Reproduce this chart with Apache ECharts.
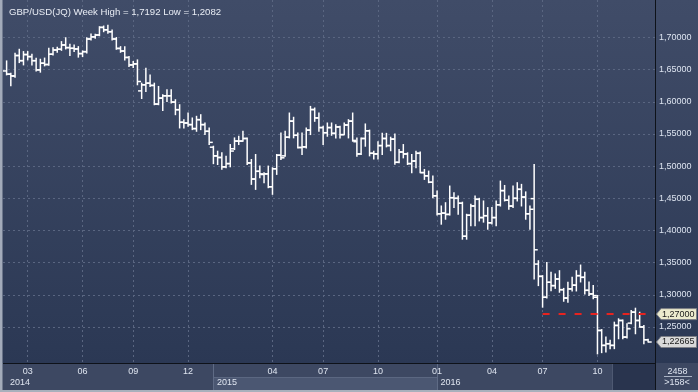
<!DOCTYPE html>
<html><head><meta charset="utf-8">
<script src="https://cdn.jsdelivr.net/npm/echarts@6/dist/echarts.min.js"></script>
<style>html,body{margin:0;padding:0;background:#2b3854}#c{width:698px;height:392px}</style>
</head><body><div id="c"></div>
<script>
const titleText = 'GBP/USD(JQ) Week High = 1,7192 Low = 1,2082';
const weeks = [
'2014-01-27','2014-02-03','2014-02-10','2014-02-17','2014-02-24','2014-03-03','2014-03-10','2014-03-17','2014-03-24','2014-03-31',
'2014-04-07','2014-04-14','2014-04-21','2014-04-28','2014-05-05','2014-05-12','2014-05-19','2014-05-26','2014-06-02','2014-06-09',
'2014-06-16','2014-06-23','2014-06-30','2014-07-07','2014-07-14','2014-07-21','2014-07-28','2014-08-04','2014-08-11','2014-08-18',
'2014-08-25','2014-09-01','2014-09-08','2014-09-15','2014-09-22','2014-09-29','2014-10-06','2014-10-13','2014-10-20','2014-10-27',
'2014-11-03','2014-11-10','2014-11-17','2014-11-24','2014-12-01','2014-12-08','2014-12-15','2014-12-22','2014-12-29',
'2015-01-05','2015-01-12','2015-01-19','2015-01-26','2015-02-02','2015-02-09','2015-02-16','2015-02-23','2015-03-02','2015-03-09',
'2015-03-16','2015-03-23','2015-03-30','2015-04-06','2015-04-13','2015-04-20','2015-04-27','2015-05-04','2015-05-11','2015-05-18',
'2015-05-25','2015-06-01','2015-06-08','2015-06-15','2015-06-22','2015-06-29','2015-07-06','2015-07-13','2015-07-20','2015-07-27',
'2015-08-03','2015-08-10','2015-08-17','2015-08-24','2015-08-31','2015-09-07','2015-09-14','2015-09-21','2015-09-28','2015-10-05',
'2015-10-12','2015-10-19','2015-10-26','2015-11-02','2015-11-09','2015-11-16','2015-11-23','2015-11-30','2015-12-07','2015-12-14',
'2015-12-21','2015-12-28',
'2016-01-04','2016-01-11','2016-01-18','2016-01-25','2016-02-01','2016-02-08','2016-02-15','2016-02-22','2016-02-29','2016-03-07',
'2016-03-14','2016-03-21','2016-03-28','2016-04-04','2016-04-11','2016-04-18','2016-04-25','2016-05-02','2016-05-09','2016-05-16',
'2016-05-23','2016-05-30','2016-06-06','2016-06-13','2016-06-20','2016-06-27','2016-07-04','2016-07-11','2016-07-18','2016-07-25',
'2016-08-01','2016-08-08','2016-08-15','2016-08-22','2016-08-29','2016-09-05','2016-09-12','2016-09-19','2016-09-26','2016-10-03',
'2016-10-10','2016-10-17','2016-10-24','2016-10-31','2016-11-07','2016-11-14','2016-11-21','2016-11-28','2016-12-05','2016-12-12',
'2016-12-19','2016-12-26'
];
// [open, high, low, close] per week
const weeklyOHLC = [
[1.6480,1.6636,1.6419,1.6430],[1.6430,1.6445,1.6249,1.6404],[1.6400,1.6755,1.6383,1.6720],[1.6720,1.6817,1.6610,1.6640],
[1.6640,1.6781,1.6574,1.6735],[1.6735,1.6781,1.6652,1.6703],[1.6703,1.6739,1.6574,1.6640],[1.6640,1.6677,1.6481,1.6497],
[1.6497,1.6662,1.6461,1.6600],[1.6600,1.6680,1.6559,1.6580],[1.6580,1.6832,1.6570,1.6740],[1.6740,1.6841,1.6729,1.6806],
[1.6806,1.6850,1.6771,1.6817],[1.6817,1.6936,1.6800,1.6884],[1.6884,1.6996,1.6822,1.6843],[1.6843,1.6894,1.6719,1.6832],
[1.6832,1.6884,1.6781,1.6822],[1.6822,1.6858,1.6695,1.6750],[1.6750,1.6791,1.6703,1.6780],[1.6780,1.6997,1.6760,1.6977],
[1.6977,1.7054,1.6961,1.7010],[1.7010,1.7049,1.6987,1.7039],[1.7039,1.7168,1.7028,1.7157],[1.7157,1.7178,1.7090,1.7120],
[1.7120,1.7192,1.7065,1.7090],[1.7090,1.7116,1.6961,1.6977],[1.6977,1.6999,1.6817,1.6830],[1.6830,1.6858,1.6770,1.6790],
[1.6790,1.6858,1.6652,1.6690],[1.6690,1.6703,1.6549,1.6574],[1.6574,1.6626,1.6533,1.6590],[1.6590,1.6652,1.6265,1.6316],
[1.6170,1.6290,1.6052,1.6265],[1.6265,1.6523,1.6162,1.6290],[1.6290,1.6419,1.6239,1.6255],[1.6255,1.6290,1.5955,1.5965],
[1.5965,1.6239,1.5955,1.6058],[1.6058,1.6110,1.5867,1.6094],[1.6094,1.6187,1.6007,1.6094],[1.6094,1.6187,1.5981,1.5996],
[1.5996,1.6033,1.5800,1.5878],[1.5878,1.5955,1.5594,1.5682],[1.5682,1.5723,1.5594,1.5671],[1.5671,1.5826,1.5620,1.5646],
[1.5646,1.5749,1.5568,1.5584],[1.5584,1.5775,1.5542,1.5723],[1.5723,1.5800,1.5568,1.5646],[1.5646,1.5671,1.5491,1.5542],
[1.5542,1.5594,1.5336,1.5370],
[1.5295,1.5310,1.5039,1.5160],[1.5160,1.5233,1.5026,1.5135],[1.5135,1.5207,1.4952,1.4990],[1.4990,1.5155,1.4975,1.5040],
[1.5040,1.5336,1.4990,1.5235],[1.5270,1.5439,1.5258,1.5390],[1.5390,1.5465,1.5336,1.5390],[1.5390,1.5542,1.5388,1.5430],
[1.5430,1.5439,1.5026,1.5050],[1.5050,1.5104,1.4717,1.4800],[1.4800,1.5181,1.4639,1.4920],[1.4920,1.5001,1.4820,1.4880],
[1.4870,1.4897,1.4743,1.4880],[1.4880,1.5001,1.4665,1.4680],[1.4680,1.4975,1.4562,1.4960],[1.4960,1.5181,1.4872,1.5170],
[1.5170,1.5517,1.5104,1.5130],[1.5160,1.5542,1.5155,1.5450],[1.5450,1.5826,1.5439,1.5700],[1.5700,1.5760,1.5440,1.5480],
[1.5480,1.5517,1.5284,1.5290],[1.5290,1.5517,1.5181,1.5300],[1.5300,1.5594,1.5284,1.5560],[1.5560,1.5929,1.5491,1.5880],
[1.5880,1.5904,1.5697,1.5750],[1.5750,1.5826,1.5542,1.5600],[1.5600,1.5620,1.5336,1.5520],[1.5520,1.5671,1.5465,1.5600],
[1.5600,1.5671,1.5480,1.5510],[1.5510,1.5645,1.5439,1.5610],[1.5610,1.5620,1.5439,1.5490],[1.5490,1.5671,1.5490,1.5640],
[1.5640,1.5723,1.5439,1.5700],[1.5700,1.5826,1.5388,1.5400],[1.5380,1.5439,1.5155,1.5190],[1.5190,1.5439,1.5181,1.5430],
[1.5430,1.5656,1.5310,1.5550],[1.5550,1.5560,1.5160,1.5200],[1.5200,1.5230,1.5110,1.5190],[1.5190,1.5380,1.5110,1.5320],
[1.5320,1.5510,1.5180,1.5430],[1.5430,1.5510,1.5300,1.5320],[1.5320,1.5450,1.5240,1.5420],[1.5420,1.5501,1.5030,1.5060],
[1.5060,1.5258,1.5052,1.5220],[1.5220,1.5336,1.5129,1.5190],[1.5190,1.5207,1.5026,1.5040],[1.5040,1.5181,1.4897,1.5080],
[1.5080,1.5233,1.4975,1.5200],[1.5200,1.5222,1.4897,1.4900],[1.4900,1.4949,1.4794,1.4850],[1.4850,1.4923,1.4743,1.4750],
[1.4750,1.4846,1.4510,1.4540],[1.4540,1.4614,1.4240,1.4260],[1.4260,1.4381,1.4098,1.4270],[1.4270,1.4432,1.4175,1.4250],
[1.4250,1.4691,1.4240,1.4510],[1.4510,1.4588,1.4356,1.4500],[1.4500,1.4536,1.4252,1.4423],[1.4423,1.4440,1.3865,1.3910],
[1.3910,1.4252,1.3865,1.4237],[1.4237,1.4407,1.4072,1.4381],[1.4381,1.4536,1.4072,1.4485],[1.4485,1.4500,1.4149,1.4201],
[1.4201,1.4459,1.4130,1.4230],[1.4230,1.4356,1.4020,1.4120],[1.4120,1.4356,1.4100,1.4201],[1.4201,1.4459,1.4072,1.4400],
[1.4400,1.4768,1.4380,1.4620],[1.4620,1.4700,1.4459,1.4470],[1.4470,1.4536,1.4330,1.4380],[1.4380,1.4691,1.4356,1.4500],
[1.4500,1.4743,1.4459,1.4640],[1.4640,1.4717,1.4381,1.4520],[1.4520,1.4600,1.4175,1.4260],[1.4260,1.4381,1.4020,1.4330],
[1.4495,1.5026,1.3246,1.3700],[1.3478,1.3530,1.3143,1.3287],[1.3287,1.3298,1.2808,1.2962],[1.2962,1.3504,1.2950,1.3195],
[1.3195,1.3349,1.3065,1.3143],[1.3143,1.3324,1.3100,1.3246],[1.3246,1.3375,1.3040,1.3080],[1.3080,1.3100,1.2900,1.2950],
[1.2950,1.3195,1.2885,1.3092],[1.3092,1.3272,1.3060,1.3150],[1.3150,1.3375,1.3060,1.3298],[1.3298,1.3463,1.3200,1.3272],
[1.3272,1.3349,1.3014,1.3070],[1.3070,1.3200,1.2988,1.3014],[1.3014,1.3143,1.2937,1.2988],[1.2962,1.2990,1.2082,1.2446],
[1.2446,1.2460,1.2101,1.2214],[1.2214,1.2343,1.2111,1.2240],[1.2240,1.2292,1.2163,1.2214],[1.2214,1.2575,1.2163,1.2524],
[1.2524,1.2627,1.2317,1.2601],[1.2601,1.2610,1.2317,1.2343],[1.2343,1.2549,1.2330,1.2472],[1.2560,1.2756,1.2549,1.2730],
[1.2730,1.2792,1.2395,1.2601],[1.2601,1.2730,1.2498,1.2500],[1.2500,1.2523,1.2240,1.2302],[1.2302,1.2310,1.2266,1.22665]
];
const monthTickWeeks  = ['2014-03-03','2014-06-02','2014-08-25','2014-11-24','2015-04-13','2015-07-06','2015-10-05','2016-01-11','2016-04-11','2016-07-04','2016-10-03'];
const monthTickLabels = ['03','06','09','12','04','07','10','01','04','07','10'];
const yearStartWeeks = ['2014-01-27','2015-01-05','2016-01-11'];
const yearLabels = ['2014','2015','2016'];
const markLevel = 1.27;
const markFromWeek = '2016-07-04';
const footerTop = '2458';
const footerBottom = '>158<';

const FONT = '"Liberation Sans", Arial, sans-serif';
const fmt = v => v.toFixed(5).replace('.', ',');
const monthLabelOf = {}; monthTickWeeks.forEach((w, i) => monthLabelOf[w] = monthTickLabels[i]);
const yearLabelOf = {}; yearStartWeeks.forEach((w, i) => yearLabelOf[w] = yearLabels[i]);
const lastWeek = weeks[weeks.length - 1];
const lastClose = weeklyOHLC[weeklyOHLC.length - 1][3];

const chart = echarts.init(document.getElementById('c'), null, {renderer: 'canvas'});

const PX_PER_UNIT = 643.3;
const Y170 = 37.5;
const yMaxA = 1.70 + Y170 / PX_PER_UNIT;
const yMinA = yMaxA - 363 / PX_PER_UNIT;
const yMinC = 1.20, yMaxC = 1.70;
const frameBottom = 392 - (Y170 + (yMaxC - yMinC) * PX_PER_UNIT);

function renderBar(params, api) {
  const i = api.value(0);
  const pO = api.coord([i, api.value(1)]);
  const pH = api.coord([i, api.value(2)]);
  const pL = api.coord([i, api.value(3)]);
  const pC = api.coord([i, api.value(4)]);
  const x = pH[0];
  const st = {stroke: '#ffffff', lineWidth: 1.5};
  return {type: 'group', children: [
    {type: 'line', shape: {x1: x, y1: pH[1] - 0.5, x2: x, y2: pL[1] + 0.5}, style: st},
    {type: 'line', shape: {x1: x - 3.6, y1: pO[1], x2: x, y2: pO[1]}, style: st},
    {type: 'line', shape: {x1: x, y1: pC[1], x2: x + 3.6, y2: pC[1]}, style: st}
  ]};
}

const gridLine = {color: '#5a6681', type: [2, 3], width: 1};

chart.setOption({
  animation: false,
  backgroundColor: {type: 'linear', x: 0, y: 0, x2: 0, y2: 1, colorStops: [
    {offset: 0, color: '#404c68'}, {offset: 0.93, color: '#2b3854'}, {offset: 1, color: '#2b3854'}]},
  title: {text: titleText, left: 4, top: 2, textStyle: {color: '#e9edf5', fontSize: 9.6, fontWeight: 'normal', fontFamily: FONT}},
  grid: [
    {left: 6.6, right: 698 - 648.1, top: 0, bottom: 29},
    {left: 3, right: 43, top: Y170, bottom: frameBottom}
  ],
  xAxis: [
    {type: 'category', gridIndex: 0, data: weeks, boundaryGap: false,
     axisLine: {show: false}, axisTick: {show: false},
     axisLabel: {interval: (idx, val) => monthLabelOf[val] !== undefined, formatter: v => monthLabelOf[v] || '',
       color: '#dfe5f0', fontSize: 9, fontFamily: FONT, margin: 4},
     splitLine: {show: true, interval: (idx, val) => monthLabelOf[val] !== undefined, lineStyle: gridLine}},
    {type: 'category', gridIndex: 0, data: weeks, boundaryGap: false, position: 'bottom',
     axisLine: {show: false}, axisTick: {show: false}, splitLine: {show: false},
     axisLabel: {interval: (idx, val) => yearLabelOf[val] !== undefined, formatter: v => yearLabelOf[v] || '',
       color: '#dfe5f0', fontSize: 9, fontFamily: FONT, margin: 15, align: 'left', padding: [0, 0, 0, 3.5]}},
    {type: 'value', gridIndex: 1, show: false, min: 0, max: 1}
  ],
  yAxis: [
    {type: 'value', gridIndex: 0, min: yMinA, max: yMaxA, show: false},
    {type: 'value', gridIndex: 1, position: 'right', min: yMinC, max: yMaxC, interval: 0.05,
     axisLine: {show: false}, axisTick: {show: false},
     axisLabel: {formatter: fmt, color: '#dde4f0', fontSize: 9, fontFamily: FONT, margin: 4, showMinLabel: false, showMaxLabel: true},
     splitLine: {show: true, showMinLine: false, showMaxLine: true, lineStyle: gridLine}}
  ],
  series: [
    {type: 'custom', xAxisIndex: 0, yAxisIndex: 0, renderItem: renderBar, clip: false,
     encode: {x: 0, y: [1, 2, 3, 4]},
     data: weeks.map((w, i) => [i].concat(weeklyOHLC[i]))},
    {type: 'line', xAxisIndex: 0, yAxisIndex: 0, data: [], silent: true,
     markLine: {symbol: 'none', silent: true, label: {show: false},
       lineStyle: {color: '#e8231f', width: 2, type: [7, 9]},
       data: [[{coord: [markFromWeek, markLevel]}, {coord: [lastWeek, markLevel]}]]}}
  ]
});

const xOf = w => chart.convertToPixel({xAxisIndex: 0}, w);
const yOf = v => chart.convertToPixel({yAxisIndex: 1}, v);
const x2015 = Math.round(xOf(yearStartWeeks[1])) + 0.5;
const x2016 = Math.round(xOf(yearStartWeeks[2])) + 0.5;

function tag(v, fill) {
  const y = yOf(v);
  return [
    {type: 'polygon', z: 20, shape: {points: [[656.5, y], [661, y - 5.5], [696.5, y - 5.5], [696.5, y + 5.5], [661, y + 5.5]]},
     style: {fill: fill, stroke: '#7d7f86', lineWidth: 1}},
    {type: 'text', z: 21, x: 662, y: y, style: {text: fmt(v), fill: '#1b1b1b', font: '9px ' + FONT, verticalAlign: 'middle'}}
  ];
}

chart.setOption({graphic: [
  {type: 'rect', z: -5, shape: {x: 0, y: 363, width: 698, height: 29}, style: {fill: '#3d4862'}},
  {type: 'rect', z: -4, shape: {x: x2015, y: 377, width: x2016 - x2015, height: 13}, style: {fill: '#4b5772'}},
  {type: 'line', z: -3, shape: {x1: x2015, y1: 377.5, x2: x2016, y2: 377.5}, style: {stroke: '#5b6781', lineWidth: 1}},
  {type: 'line', z: -3, shape: {x1: x2015, y1: 363, x2: x2015, y2: 390}, style: {stroke: '#5f6b85', lineWidth: 1}},
  {type: 'line', z: -3, shape: {x1: x2016, y1: 363, x2: x2016, y2: 390}, style: {stroke: '#5f6b85', lineWidth: 1}},
  {type: 'rect', z: -3, shape: {x: 612, y: 364, width: 43, height: 26}, style: {fill: '#29344e'}},
  {type: 'line', z: -2, shape: {x1: 612.5, y1: 364, x2: 612.5, y2: 390}, style: {stroke: '#4e5972', lineWidth: 1}},
  {type: 'line', z: 5, shape: {x1: 3, y1: 363.5, x2: 655, y2: 363.5}, style: {stroke: '#0e1219', lineWidth: 1}},
  {type: 'line', z: 5, shape: {x1: 655.5, y1: 0, x2: 655.5, y2: 392}, style: {stroke: '#0e1219', lineWidth: 1}},
  {type: 'rect', z: 5, shape: {x: 0, y: 0, width: 2.5, height: 392}, style: {fill: '#a3abba'}},
  {type: 'rect', z: 5, shape: {x: 0, y: 390, width: 698, height: 2}, style: {fill: '#a9b0bc'}},
  {type: 'text', z: 5, x: 677.5, y: 371.5, style: {text: footerTop, fill: '#dfe5f0', font: '9px ' + FONT, align: 'center', verticalAlign: 'middle'}},
  {type: 'line', z: 5, shape: {x1: 664, y1: 376.5, x2: 692, y2: 376.5}, style: {stroke: '#aab3c4', lineWidth: 1}},
  {type: 'text', z: 5, x: 677, y: 382.5, style: {text: footerBottom, fill: '#dfe5f0', font: '9px ' + FONT, align: 'center', verticalAlign: 'middle'}}
].concat(tag(markLevel, '#ecebcd'), tag(lastClose, '#d9d9d9'))});
</script>
</body></html>
